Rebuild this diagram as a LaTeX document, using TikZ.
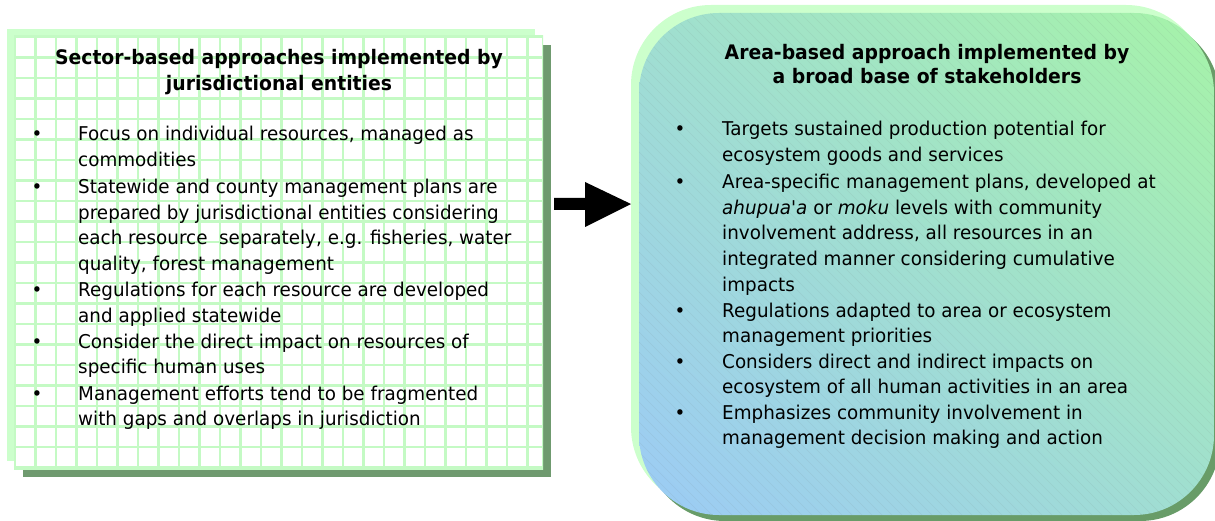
\documentclass[tikz,border=0pt]{standalone}
\usepackage{fontspec}
\setmainfont{DejaVu Sans}
\newfontfamily\bodyfont{DejaVu Sans}[FakeStretch=0.965]
\newfontfamily\headfont{DejaVu Sans}[FakeStretch=0.94]
\usetikzlibrary{shadings}
\definecolor{paleGreen}{HTML}{CCFFCC}
\definecolor{gridGreen}{HTML}{C4FAC4}
\definecolor{shadowGreen}{HTML}{6F9A6F}
\definecolor{shadowGreenB}{HTML}{689C68}
\definecolor{gradGreen}{HTML}{A6F3A8}
\definecolor{gradBlue}{HTML}{9CCBF6}
\definecolor{gradMid}{HTML}{A0DFD0}
\tikzset{
  gridline/.style={gridGreen, line width=2.4pt},
  hatch/.style={black!50, line width=0.3pt, opacity=0.22},
  bodytxt/.style={anchor=base west, inner sep=0pt, font=\bodyfont\fontsize{19}{22}\selectfont},
  bullettxt/.style={anchor=base, inner sep=0pt, font=\bodyfont\fontsize{19}{22}\selectfont},
  titletxt/.style={anchor=base, inner sep=0pt, font=\headfont\fontsize{20}{24}\selectfont\bfseries},
}
\begin{document}
\begin{tikzpicture}[x=1pt,y=-1pt]
\useasboundingbox (0,0) rectangle (1215,521);

% ---------- left box ----------
\fill[paleGreen] (7,29) rectangle (535,461);
\fill[shadowGreen] (23,45) rectangle (551,477);
\fill[white] (14,36) rectangle (543,469);
\begin{scope}
  \clip (14,36) rectangle (543,469);
  \foreach \i in {0,...,26} \draw[gridline] ({15+\i*20.5},36) -- ({15+\i*20.5},469);
  \foreach \j in {0,...,21} \draw[gridline] (14,{37+\j*20.5}) -- (543,{37+\j*20.5});
  \draw[gridline] (14,36) rectangle (543,469);
\end{scope}

\node[titletxt] (lt1) at (279,65) {Sector-based approaches implemented by};
\node[titletxt] (lt2) at (279,91) {jurisdictional entities};

\node[bullettxt] (lb1) at (37,141) {•};
\node[bodytxt] (l1a) at (78,141) {Focus on individual resources, managed as};
\node[bodytxt] (l1b) at (78,166.7) {commodities};
\node[bullettxt] (lb2) at (37,193.5) {•};
\node[bodytxt] (l2a) at (78,193.5) {Statewide and county management plans are};
\node[bodytxt] (l2b) at (78,219.2) {prepared by jurisdictional entities considering};
\node[bodytxt] (l2c) at (78,244.9) {each resource\ \ separately, e.g. fisheries, water};
\node[bodytxt] (l2d) at (78,270.6) {quality, forest management};
\node[bullettxt] (lb3) at (37,297) {•};
\node[bodytxt] (l3a) at (78,297) {Regulations for each resource are developed};
\node[bodytxt] (l3b) at (78,322.7) {and applied statewide};
\node[bullettxt] (lb4) at (37,348) {•};
\node[bodytxt] (l4a) at (78,348) {Consider the direct impact on resources of};
\node[bodytxt] (l4b) at (78,373.7) {specific human uses};
\node[bullettxt] (lb5) at (37,400) {•};
\node[bodytxt] (l5a) at (78,400) {Management efforts tend to be fragmented};
\node[bodytxt] (l5b) at (78,425.7) {with gaps and overlaps in jurisdiction};

% ---------- arrow ----------
\fill[black] (554,198) -- (585,198) -- (585,182) -- (631,204) -- (585,227) -- (585,210) -- (554,210) -- cycle;

% ---------- right box ----------
\fill[shadowGreenB, rounded corners=80pt] (645,19) rectangle (1220,521);
\fill[paleGreen, rounded corners=80pt] (631,5) rectangle (1206,507);
\shade[rounded corners=80pt, upper right=gradGreen, lower left=gradBlue, upper left=gradMid, lower right=gradMid] (639,13) rectangle (1214,515);
\begin{scope}
  \clip[rounded corners=80pt] (639,13) rectangle (1214,515);
  \foreach \a in {120,130,...,1220} \draw[hatch] (\a,13) -- ({\a+502},515);
\end{scope}

\node[titletxt] (rt1) at (927,60) {Area-based approach implemented by};
\node[titletxt] (rt2) at (927,84) {a broad base of stakeholders};

\node[bullettxt] (rb1) at (680,136) {•};
\node[bodytxt] (r1a) at (722,136) {Targets sustained production potential for};
\node[bodytxt] (r1b) at (722,161.7) {ecosystem goods and services};
\node[bullettxt] (rb2) at (680,188.5) {•};
\node[bodytxt] (r2a) at (722,188.5) {Area-specific management plans, developed at};
\node[bodytxt] (r2b) at (722,214.2) {\textit{ahupua'a} or \textit{moku} levels with community};
\node[bodytxt] (r2c) at (722,239.9) {involvement address, all resources in an};
\node[bodytxt] (r2d) at (722,265.6) {integrated manner considering cumulative};
\node[bodytxt] (r2e) at (722,291.3) {impacts};
\node[bullettxt] (rb3) at (680,317) {•};
\node[bodytxt] (r3a) at (722,317) {Regulations adapted to area or ecosystem};
\node[bodytxt] (r3b) at (722,342.7) {management priorities};
\node[bullettxt] (rb4) at (680,368) {•};
\node[bodytxt] (r4a) at (722,368) {Considers direct and indirect impacts on};
\node[bodytxt] (r4b) at (722,393.7) {ecosystem of all human activities in an area};
\node[bullettxt] (rb5) at (680,419) {•};
\node[bodytxt] (r5a) at (722,419) {Emphasizes community involvement in};
\node[bodytxt] (r5b) at (722,444.7) {management decision making and action};
\end{tikzpicture}
\end{document}
